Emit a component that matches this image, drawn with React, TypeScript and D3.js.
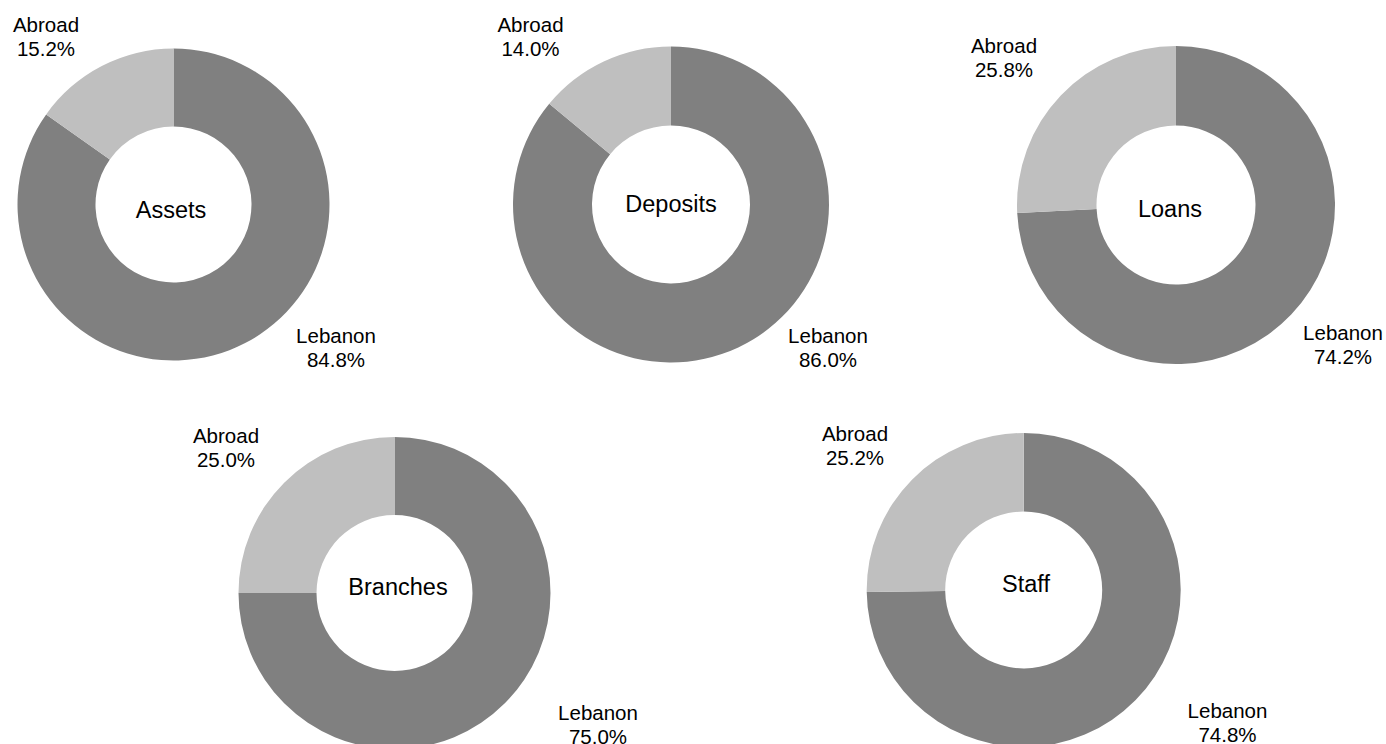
import React from "react";
import * as d3 from "d3";

// shares of each indicator, in percent
const categories = ["Assets", "Deposits", "Loans", "Branches", "Staff"];
const lebanonShare = [84.8, 86.0, 74.2, 75.0, 74.8];
const abroadShare = [15.2, 14.0, 25.8, 25.0, 25.2];
const segmentNames = ["Lebanon", "Abroad"];

// where each donut sits on the page
const layout = [
    { cx: 173.5, cy: 204.5, r: 156, title: [171, 218], abroad: [46, 32], lebanon: [336, 343] },
    { cx: 671, cy: 204.5, r: 158, title: [671, 212], abroad: [530.5, 32], lebanon: [828, 343] },
    { cx: 1176, cy: 205, r: 159, title: [1170, 217], abroad: [1004, 53], lebanon: [1343, 340] },
    { cx: 394.5, cy: 593, r: 156, title: [398, 595], abroad: [226, 443], lebanon: [598, 720] },
    { cx: 1023.7, cy: 590, r: 157, title: [1026, 592], abroad: [855, 441], lebanon: [1227.5, 718] },
];

const width = 1386;
const height = 744;
const font = "Arial, 'Liberation Sans', Helvetica, sans-serif";

const color = d3.scaleOrdinal<string, string>()
    .domain(segmentNames)
    .range(["#808080", "#bfbfbf"]);

const pie = d3.pie<{ name: string; value: number }>()
    .sort(null)
    .value(d => d.value);

function Donut({ index }: { index: number }) {
    const pos = layout[index];
    const slices = pie([
        { name: segmentNames[0], value: lebanonShare[index] },
        { name: segmentNames[1], value: abroadShare[index] },
    ]);
    const arc = d3.arc<d3.PieArcDatum<{ name: string; value: number }>>()
        .innerRadius(pos.r * 0.5)
        .outerRadius(pos.r);

    const label = (name: string, value: number, at: number[]) => (
        <text x={at[0]} y={at[1]} textAnchor="middle" fontSize={20.5} fontFamily={font} fill="#000">
            <tspan x={at[0]}>{name}</tspan>
            <tspan x={at[0]} dy={24}>{value.toFixed(1)}%</tspan>
        </text>
    );

    return (
        <g>
            <g transform={`translate(${pos.cx},${pos.cy})`}>
                {slices.map(s => (
                    <path key={s.data.name} d={arc(s) || ""} fill={color(s.data.name)} />
                ))}
            </g>
            <text x={pos.title[0]} y={pos.title[1]} textAnchor="middle" fontSize={23.5} fontFamily={font} fill="#000">
                {categories[index]}
            </text>
            {label(segmentNames[1], abroadShare[index], pos.abroad)}
            {label(segmentNames[0], lebanonShare[index], pos.lebanon)}
        </g>
    );
}

export default function App() {
    return (
        <svg width={width} height={height} style={{ position: "absolute", left: 0, top: 0, background: "#fff" }}>
            {categories.map((c, i) => <Donut key={c} index={i} />)}
        </svg>
    );
}
